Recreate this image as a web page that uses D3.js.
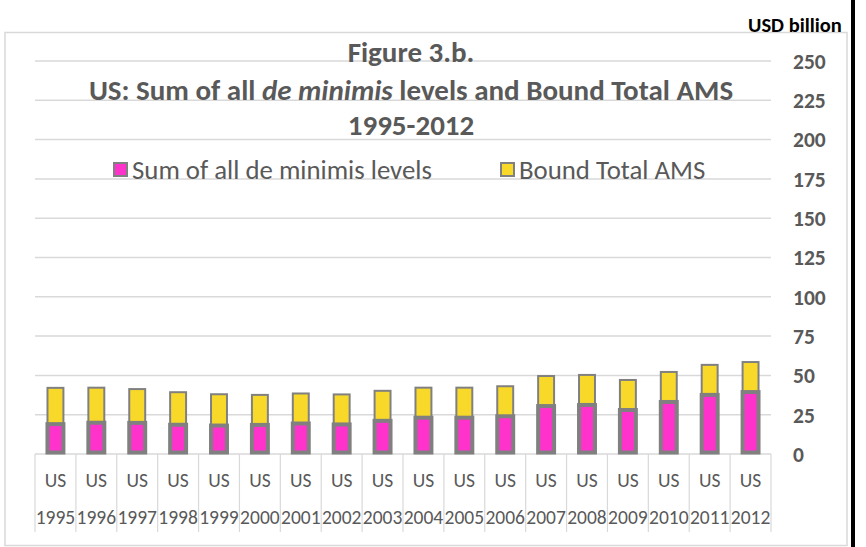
<!DOCTYPE html>
<html>
<head>
<meta charset="utf-8">
<script src="https://cdn.jsdelivr.net/npm/d3@7"></script>
<style>
  html, body { margin: 0; padding: 0; background: #fff; }
  svg { display: block; }
  text { font-family: Carlito, Calibri, Lato, sans-serif; }
</style>
</head>
<body>
<svg id="chart" width="866" height="547"></svg>
<script>
// ---- data ----
const years = ["1995","1996","1997","1998","1999","2000","2001","2002","2003","2004","2005","2006","2007","2008","2009","2010","2011","2012"];
const country = "US";
const deMinimis = [19.0, 19.9, 19.8, 18.6, 18.1, 18.5, 19.4, 18.8, 21.1, 23.1, 23.1, 24.0, 30.5, 31.2, 28.0, 33.1, 37.6, 39.4];
const boundAMS = [23.08, 22.29, 21.50, 20.71, 19.91, 19.10, 19.10, 19.10, 19.10, 19.10, 19.10, 19.10, 19.10, 19.10, 19.10, 19.10, 19.10, 19.10];
const yTicks = [0, 25, 50, 75, 100, 125, 150, 175, 200, 225, 250];
const seriesNames = ["Sum of all de minimis levels", "Bound Total AMS"];
const titleLines = ["Figure 3.b.", "US: Sum of all de minimis levels and Bound Total AMS", "1995-2012"];
const unitLabel = "USD billion";

// ---- styles ----
const PINK = "#FF33CC", YELLOW = "#F8D92A", EDGE = "#808080", GRID = "#D9D9D9", TXT = "#595959";

const svg = d3.select("#chart");

// black line at right edge
svg.append("rect").attr("x", 851).attr("y", 0).attr("width", 4).attr("height", 547).attr("fill", "#000");

// chart frame
svg.append("rect").attr("x", 5).attr("y", 32.5).attr("width", 842).attr("height", 513)
  .attr("fill", "#fff").attr("stroke", GRID).attr("stroke-width", 1.5);

const x = d3.scaleBand().domain(years).range([35, 771]).paddingInner(0).paddingOuter(0);
const y = d3.scaleLinear().domain([0, 250]).range([454, 61]);

// gridlines
svg.append("g").selectAll("line").data(yTicks).join("line")
  .attr("x1", 35).attr("x2", 771)
  .attr("y1", d => y(d)).attr("y2", d => y(d))
  .attr("stroke", GRID).attr("stroke-width", 1.5);

// right axis labels
const yAxis = d3.axisRight(y).tickValues(yTicks).tickSize(0).tickPadding(0);
const ya = svg.append("g").attr("transform", "translate(793,0)").call(yAxis);
ya.select(".domain").remove();
ya.selectAll("text").attr("fill", TXT).attr("font-weight", "bold").attr("font-size", 21.5)
  .attr("font-family", "Carlito, Calibri, Lato, sans-serif").attr("text-anchor", "start").attr("dy", "0.34em");

// category dividers
const bounds = years.map(d => x(d)).concat([x.range()[1]]);
svg.append("g").selectAll("line").data(bounds).join("line")
  .attr("x1", d => d).attr("x2", d => d).attr("y1", 454).attr("y2", 532)
  .attr("stroke", GRID).attr("stroke-width", 1.2);

// category labels (two levels)
const xl = svg.append("g");
xl.selectAll("text.c").data(years).join("text").attr("class", "c")
  .attr("x", d => x(d) + x.bandwidth() / 2).attr("y", 487)
  .attr("text-anchor", "middle").attr("fill", TXT).attr("font-size", 19.5).text(country);
xl.selectAll("text.yr").data(years).join("text").attr("class", "yr")
  .attr("x", d => x(d) + x.bandwidth() / 2).attr("y", 524)
  .attr("text-anchor", "middle").attr("fill", TXT).attr("font-size", 19.5).text(d => d);

// bars
const barW = x.bandwidth() * 0.39;
const rows = years.map((yr, i) => ({ yr, a: deMinimis[i], b: boundAMS[i] }));
const bars = svg.append("g");
bars.selectAll("rect.b").data(rows).join("rect").attr("class", "b")
  .attr("x", d => x(d.yr) + (x.bandwidth() - barW) / 2).attr("width", barW)
  .attr("y", d => y(d.a + d.b)).attr("height", d => y(d.a) - y(d.a + d.b))
  .attr("fill", YELLOW).attr("stroke", EDGE).attr("stroke-width", 2);
bars.selectAll("rect.a").data(rows).join("rect").attr("class", "a")
  .attr("x", d => x(d.yr) + (x.bandwidth() - barW) / 2).attr("width", barW)
  .attr("y", d => y(d.a)).attr("height", d => y(0) - y(d.a) - 1.5)
  .attr("fill", PINK).attr("stroke", EDGE).attr("stroke-width", 4);

// title
const title = svg.append("text").attr("x", 411).attr("text-anchor", "middle")
  .attr("fill", TXT).attr("font-weight", "bold").attr("font-size", 29);
title.append("tspan").attr("x", 411).attr("y", 62).text(titleLines[0]);
const t2 = title.append("tspan").attr("x", 411).attr("y", 100);
t2.append("tspan").text("US: Sum of all ");
t2.append("tspan").attr("font-style", "italic").text("de minimis");
t2.append("tspan").text(" levels and Bound Total AMS");
title.append("tspan").attr("x", 411).attr("y", 135).text(titleLines[2]);

// legend
const legend = svg.append("g");
const legItems = [
  { name: seriesNames[0], color: PINK, x: 113 },
  { name: seriesNames[1], color: YELLOW, x: 500 }
];
legItems.forEach(it => {
  legend.append("rect").attr("x", it.x + 1).attr("y", 163).attr("width", 13).attr("height", 13)
    .attr("fill", it.color).attr("stroke", EDGE).attr("stroke-width", 2);
  legend.append("text").attr("x", it.x + 19).attr("y", 179).attr("fill", TXT)
    .attr("font-size", 26.8).text(it.name);
});

// unit label
svg.append("text").attr("x", 748).attr("y", 31.5).attr("fill", "#000").attr("font-weight", "bold")
  .attr("font-size", 20.5).text(unitLabel);
</script>
</body>
</html>
